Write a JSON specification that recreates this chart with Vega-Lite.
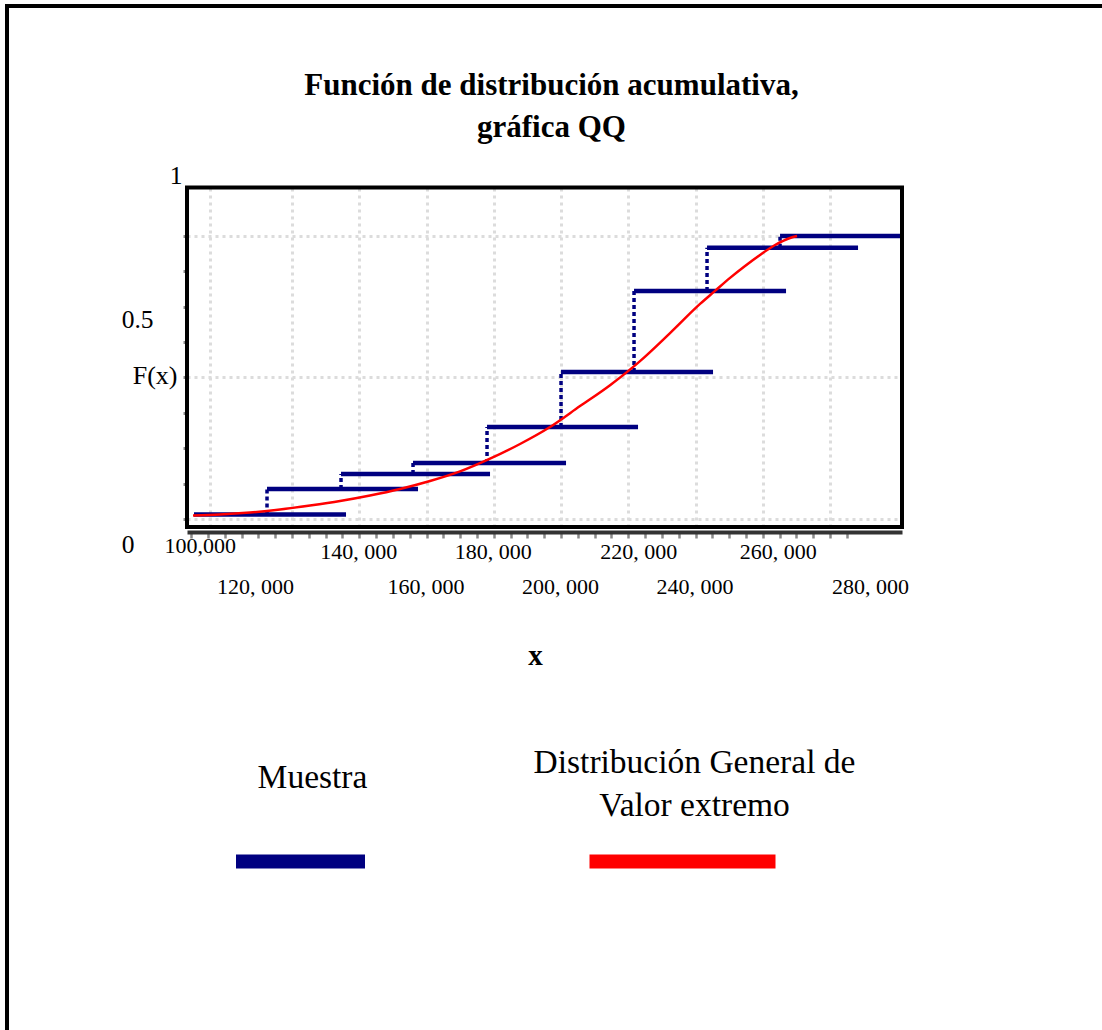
{
  "$schema": "https://vega.github.io/schema/vega-lite/v6.json",
  "width": 1095,
  "height": 1024,
  "autosize": "none",
  "padding": {"left": 7, "top": 6, "right": 0, "bottom": 0},
  "background": "white",
  "config": {
    "view": {"stroke": "black", "strokeWidth": 4, "strokeDash": [1095, 2119, 1024], "strokeCap": "square", "fill": "white"},
    "font": "Liberation Serif"
  },
  "title": {
    "text": ["Función de distribución acumulativa,", "gráfica QQ"],
    "font": "Liberation Serif",
    "fontSize": 31,
    "fontWeight": "bold",
    "color": "black",
    "lineHeight": 42,
    "anchor": "middle",
    "frame": "group",
    "baseline": "alphabetic",
    "offset": -162,
    "dx": -3
  },
  "datasets": {
    "muestra": [
      {"x": 90855, "xfin": 136059, "F": 0.0159, "Fprev": null},
      {"x": 112565, "xfin": 157472, "F": 0.106, "Fprev": 0.0159},
      {"x": 134572, "xfin": 178885, "F": 0.159, "Fprev": 0.106},
      {"x": 155985, "xfin": 201487, "F": 0.198, "Fprev": 0.159},
      {"x": 177993, "xfin": 222900, "F": 0.325, "Fprev": 0.198},
      {"x": 200000, "xfin": 245204, "F": 0.519, "Fprev": 0.325},
      {"x": 221710, "xfin": 266914, "F": 0.806, "Fprev": 0.519},
      {"x": 243420, "xfin": 288327, "F": 0.958, "Fprev": 0.806},
      {"x": 265130, "xfin": 301400, "F": 1.0, "Fprev": 0.958}
    ],
    "curva": [
      {"x": 90557, "F": 0.0124},
      {"x": 98587, "F": 0.0159},
      {"x": 107509, "F": 0.023},
      {"x": 116431, "F": 0.0336},
      {"x": 125356, "F": 0.0477},
      {"x": 134278, "F": 0.0636},
      {"x": 143200, "F": 0.083},
      {"x": 152122, "F": 0.106},
      {"x": 161044, "F": 0.134},
      {"x": 169966, "F": 0.168},
      {"x": 178888, "F": 0.213},
      {"x": 187809, "F": 0.265},
      {"x": 196731, "F": 0.325},
      {"x": 205653, "F": 0.399},
      {"x": 214575, "F": 0.473},
      {"x": 223497, "F": 0.558},
      {"x": 232419, "F": 0.657},
      {"x": 241341, "F": 0.76},
      {"x": 245802, "F": 0.806},
      {"x": 250264, "F": 0.852},
      {"x": 254725, "F": 0.894},
      {"x": 259186, "F": 0.933},
      {"x": 263647, "F": 0.968},
      {"x": 268108, "F": 0.993},
      {"x": 270190, "F": 1.0}
    ],
    "leyenda": [
      {"serie": "Muestra", "texto": "Muestra"},
      {"serie": "Distribución General de Valor extremo", "texto": "Distribución General de\nValor extremo"}
    ]
  },
  "layer": [
    {
      "layer": [
        {
          "data": {"name": "muestra"},
          "transform": [{"filter": "datum.Fprev != null"}],
          "mark": {"type": "rule", "color": "#000080", "strokeWidth": 3.5, "strokeDash": [4, 3]},
          "encoding": {
            "x": {
              "field": "x", "type": "quantitative",
              "scale": {"domain": [88770, 301400], "range": [180, 895], "nice": false, "zero": false},
              "axis": {
                "orient": "top",
                "values": [95600, 120000, 140000, 160000, 180000, 200000, 220000, 240000, 260000, 280000],
                "grid": true, "domain": false, "ticks": false, "labels": false, "title": null,
                "gridColor": "#dcdcdc", "gridWidth": 3, "gridDash": [3, 4]
              }
            },
            "y": {
              "field": "Fprev", "type": "quantitative",
              "scale": {"domain": [-0.0283, 1.1713], "range": [521, 181.5], "nice": false, "zero": false},
              "axis": {
                "orient": "left",
                "offset": -180,
                "values": [0, 0.125, 0.25, 0.375, 0.5, 0.625, 0.75, 0.875, 1],
                "domain": false,
                "ticks": true, "tickColor": "#8a8a8a", "tickWidth": 3, "tickSize": 4,
                "grid": true, "gridColor": "#dcdcdc", "gridWidth": 3, "gridDash": [3, 4],
                "gridOpacity": {"condition": {"test": "datum.value == 0 || datum.value == 0.5 || datum.value == 1", "value": 1}, "value": 0},
                "labelExpr": "datum.value == 0 ? '0' : datum.value == 0.5 ? '0.5' : datum.value == 1 ? '1' : ''",
                "labelFont": "Liberation Serif", "labelFontSize": 25.5, "labelColor": "black",
                "labelAlign": "right", "labelBaseline": "middle",
                "labelOverlap": false, "labelFlush": false, "labelBound": false,
                "labelOffset": {"condition": [{"test": "datum.value == 0", "value": 26}, {"test": "datum.value == 0.5", "value": -58}], "value": -60},
                "labelPadding": {"condition": [{"test": "datum.value == 0", "value": 49}, {"test": "datum.value == 0.5", "value": 30}], "value": 1},
                "title": "F(x)", "titleFont": "Liberation Serif", "titleFontSize": 26, "titleFontWeight": "normal", "titleColor": "black",
                "titleAngle": 0, "titleAlign": "right", "titleBaseline": "middle", "titleX": -10, "titleY": 369
              }
            },
            "y2": {"field": "F"}
          }
        },
        {
          "data": {"name": "muestra"},
          "mark": {"type": "rule", "color": "#000080", "strokeWidth": 4.5},
          "encoding": {
            "x": {
              "field": "x", "type": "quantitative",
              "scale": {"domain": [88770, 301400], "range": [180, 895], "nice": false, "zero": false},
              "axis": {
                "orient": "bottom",
                "offset": -498,
                "values": [90000, 95000, 100000, 105000, 110000, 115000, 120000, 125000, 130000, 135000, 140000, 145000, 150000, 155000, 160000, 165000, 170000, 175000, 180000, 185000, 190000, 195000, 200000, 205000, 210000, 215000, 220000, 225000, 230000, 235000, 240000, 245000, 250000, 255000, 260000, 265000, 270000, 275000, 280000, 285000],
                "grid": false,
                "domain": true, "domainColor": "#333333", "domainWidth": 4,
                "ticks": true, "tickColor": "#8a8a8a", "tickWidth": 2.5, "tickSize": 6,
                "labelExpr": "datum.value % 20000 != 0 ? '' : datum.value == 100000 ? '100,000' : format(datum.value / 1000, 'd') + ', 000'",
                "labelFont": "Liberation Serif", "labelFontSize": 22, "labelColor": "black",
                "labelAlign": "center", "labelBaseline": "middle",
                "labelOverlap": false, "labelFlush": false, "labelBound": false,
                "labelPadding": {"condition": [{"test": "datum.value == 100000", "value": 7}, {"test": "(datum.value / 20000) % 2 == 0", "value": 48}], "value": 13},
                "labelOffset": {"condition": [{"test": "datum.value == 100000", "value": -25}, {"test": "datum.value == 120000", "value": -37}, {"test": "datum.value == 220000", "value": 10}, {"test": "datum.value == 260000", "value": 15}, {"test": "datum.value == 280000", "value": 40}], "value": -1},
                "title": "x", "titleFont": "Liberation Serif", "titleFontSize": 29, "titleFontWeight": "bold", "titleColor": "black",
                "titleX": 528, "titleY": 123, "titleAlign": "center", "titleBaseline": "middle", "titleAngle": 0
              }
            },
            "x2": {"field": "xfin"},
            "y": {
              "field": "F", "type": "quantitative",
              "scale": {"domain": [-0.0283, 1.1713], "range": [521, 181.5], "nice": false, "zero": false}
            }
          }
        },
        {
          "data": {"name": "curva"},
          "mark": {"type": "line", "color": "#ff0000", "strokeWidth": 2.5, "interpolate": "monotone"},
          "encoding": {
            "x": {
              "field": "x", "type": "quantitative",
              "scale": {"domain": [88770, 301400], "range": [180, 895], "nice": false, "zero": false},
              "axis": null
            },
            "y": {
              "field": "F", "type": "quantitative",
              "scale": {"domain": [-0.0283, 1.1713], "range": [521, 181.5], "nice": false, "zero": false}
            }
          }
        },
        {
          "data": {"values": [{}]},
          "mark": {"type": "rect", "fill": "transparent", "stroke": "black", "strokeWidth": 4},
          "encoding": {
            "x": {
              "datum": 88770, "type": "quantitative",
              "scale": {"domain": [88770, 301400], "range": [180, 895], "nice": false, "zero": false},
              "axis": null
            },
            "x2": {"datum": 301400},
            "y": {
              "datum": -0.0283, "type": "quantitative",
              "scale": {"domain": [-0.0283, 1.1713], "range": [521, 181.5], "nice": false, "zero": false}
            },
            "y2": {"datum": 1.1713}
          }
        }
      ],
      "resolve": {"axis": {"x": "independent"}}
    },
    {
      "data": {"name": "leyenda"},
      "layer": [
        {
          "mark": {"type": "text", "font": "Liberation Serif", "fontSize": 33.5, "lineHeight": 43, "lineBreak": "\n", "baseline": "middle", "align": "center", "color": "black"},
          "encoding": {
            "x": {
              "field": "serie", "type": "nominal",
              "scale": {"type": "point", "domain": ["Muestra", "Distribución General de Valor extremo"], "range": [305.5, 687.5], "padding": 0},
              "axis": null
            },
            "y": {
              "field": "serie", "type": "nominal",
              "scale": {"type": "point", "domain": ["Muestra", "Distribución General de Valor extremo"], "range": [772, 757], "padding": 0},
              "axis": null
            },
            "text": {"field": "texto"}
          }
        },
        {
          "mark": {"type": "tick", "orient": "horizontal", "thickness": 14, "opacity": 1, "yOffset": 343.5, "xOffset": -12},
          "encoding": {
            "x": {
              "field": "serie", "type": "nominal",
              "scale": {"type": "point", "domain": ["Muestra", "Distribución General de Valor extremo"], "range": [305.5, 687.5], "padding": 0},
              "axis": null
            },
            "size": {
              "field": "serie", "type": "nominal",
              "scale": {"domain": ["Muestra", "Distribución General de Valor extremo"], "range": [129, 186]},
              "legend": null
            },
            "color": {
              "field": "serie", "type": "nominal",
              "scale": {"domain": ["Muestra", "Distribución General de Valor extremo"], "range": ["#000080", "#ff0000"]},
              "legend": null
            }
          }
        }
      ]
    }
  ],
  "resolve": {"scale": {"x": "independent", "y": "independent"}}
}
